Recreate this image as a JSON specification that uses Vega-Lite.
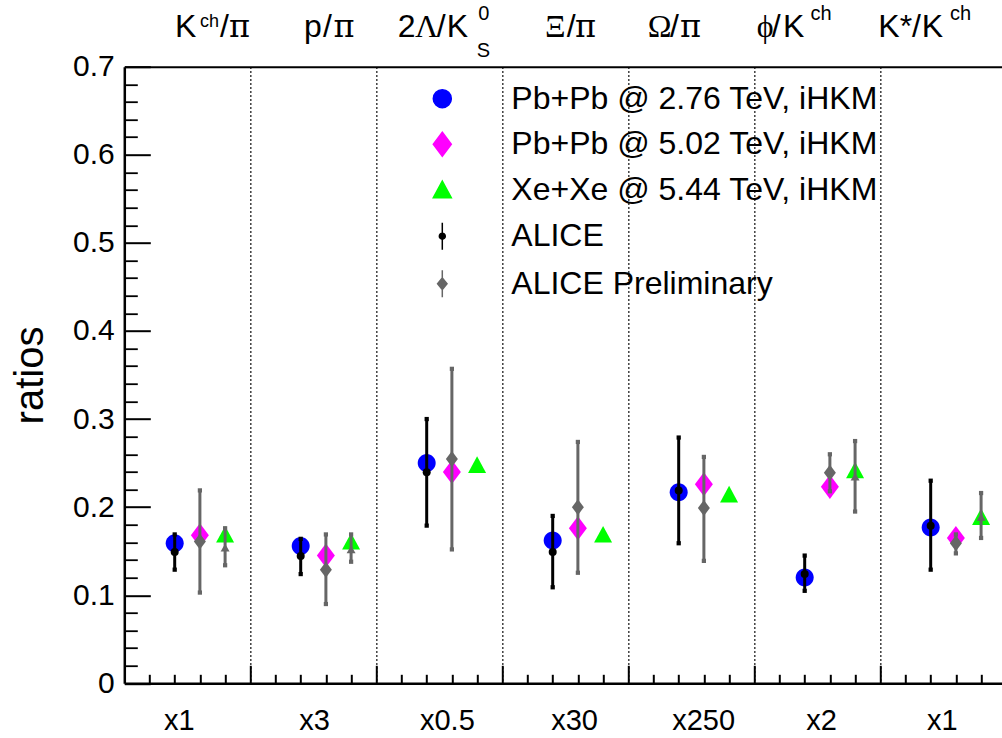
{
  "$schema": "https://vega.github.io/schema/vega-lite/v6.json",
  "width": 877.7,
  "height": 616.6,
  "autosize": {"type": "none"},
  "padding": {"left": 124.3, "top": 66.7, "right": 0, "bottom": 54.7},
  "background": "white",
  "config": {
    "view": {"stroke": null},
    "font": "Liberation Sans",
    "axis": {"labelFont": "Liberation Sans", "labelColor": "black", "tickColor": "black", "domainColor": "black", "titleColor": "black", "labelFlush": false, "labelOverlap": false, "grid": false}
  },
  "datasets": {
    "models": [
      {"slot": 2, "series": "Pb+Pb @ 2.76 TeV, iHKM", "ratio": 0.159},
      {"slot": 3, "series": "Pb+Pb @ 5.02 TeV, iHKM", "ratio": 0.168},
      {"slot": 4, "series": "Xe+Xe @ 5.44 TeV, iHKM", "ratio": 0.169},
      {"slot": 7, "series": "Pb+Pb @ 2.76 TeV, iHKM", "ratio": 0.156},
      {"slot": 8, "series": "Pb+Pb @ 5.02 TeV, iHKM", "ratio": 0.145},
      {"slot": 9, "series": "Xe+Xe @ 5.44 TeV, iHKM", "ratio": 0.161},
      {"slot": 12, "series": "Pb+Pb @ 2.76 TeV, iHKM", "ratio": 0.25},
      {"slot": 13, "series": "Pb+Pb @ 5.02 TeV, iHKM", "ratio": 0.24},
      {"slot": 14, "series": "Xe+Xe @ 5.44 TeV, iHKM", "ratio": 0.248},
      {"slot": 17, "series": "Pb+Pb @ 2.76 TeV, iHKM", "ratio": 0.162},
      {"slot": 18, "series": "Pb+Pb @ 5.02 TeV, iHKM", "ratio": 0.176},
      {"slot": 19, "series": "Xe+Xe @ 5.44 TeV, iHKM", "ratio": 0.169},
      {"slot": 22, "series": "Pb+Pb @ 2.76 TeV, iHKM", "ratio": 0.217},
      {"slot": 23, "series": "Pb+Pb @ 5.02 TeV, iHKM", "ratio": 0.226},
      {"slot": 24, "series": "Xe+Xe @ 5.44 TeV, iHKM", "ratio": 0.2145},
      {"slot": 27, "series": "Pb+Pb @ 2.76 TeV, iHKM", "ratio": 0.12},
      {"slot": 28, "series": "Pb+Pb @ 5.02 TeV, iHKM", "ratio": 0.223},
      {"slot": 29, "series": "Xe+Xe @ 5.44 TeV, iHKM", "ratio": 0.242},
      {"slot": 32, "series": "Pb+Pb @ 2.76 TeV, iHKM", "ratio": 0.177},
      {"slot": 33, "series": "Pb+Pb @ 5.02 TeV, iHKM", "ratio": 0.165},
      {"slot": 34, "series": "Xe+Xe @ 5.44 TeV, iHKM", "ratio": 0.189}
    ],
    "alice": [
      {"slot": 2, "series": "ALICE", "marker": "circle", "ratio": 0.149, "lo": 0.129, "hi": 0.169},
      {"slot": 3, "series": "ALICE Preliminary", "marker": "diamond", "ratio": 0.161, "lo": 0.103, "hi": 0.219},
      {"slot": 4, "series": "ALICE Preliminary", "marker": "triangle", "ratio": 0.154, "lo": 0.134, "hi": 0.176},
      {"slot": 7, "series": "ALICE", "marker": "circle", "ratio": 0.1445, "lo": 0.124, "hi": 0.164},
      {"slot": 8, "series": "ALICE Preliminary", "marker": "diamond", "ratio": 0.129, "lo": 0.09, "hi": 0.169},
      {"slot": 9, "series": "ALICE Preliminary", "marker": "triangle", "ratio": 0.152, "lo": 0.138, "hi": 0.169},
      {"slot": 12, "series": "ALICE", "marker": "circle", "ratio": 0.2395, "lo": 0.179, "hi": 0.3},
      {"slot": 13, "series": "ALICE Preliminary", "marker": "diamond", "ratio": 0.2546, "lo": 0.152, "hi": 0.357},
      {"slot": 17, "series": "ALICE", "marker": "circle", "ratio": 0.149, "lo": 0.109, "hi": 0.19},
      {"slot": 18, "series": "ALICE Preliminary", "marker": "diamond", "ratio": 0.2, "lo": 0.1255, "hi": 0.274},
      {"slot": 22, "series": "ALICE", "marker": "circle", "ratio": 0.219, "lo": 0.159, "hi": 0.279},
      {"slot": 23, "series": "ALICE Preliminary", "marker": "diamond", "ratio": 0.199, "lo": 0.139, "hi": 0.257},
      {"slot": 27, "series": "ALICE", "marker": "circle", "ratio": 0.124, "lo": 0.105, "hi": 0.145},
      {"slot": 28, "series": "ALICE Preliminary", "marker": "diamond", "ratio": 0.239, "lo": 0.218, "hi": 0.26},
      {"slot": 29, "series": "ALICE Preliminary", "marker": "triangle", "ratio": 0.2346, "lo": 0.195, "hi": 0.275},
      {"slot": 32, "series": "ALICE", "marker": "circle", "ratio": 0.179, "lo": 0.129, "hi": 0.23},
      {"slot": 33, "series": "ALICE Preliminary", "marker": "diamond", "ratio": 0.159, "lo": 0.1475, "hi": 0.169},
      {"slot": 34, "series": "ALICE Preliminary", "marker": "triangle", "ratio": 0.189, "lo": 0.165, "hi": 0.216}
    ],
    "labels": [
      {"slot": 2.012, "txt": "K", "kind": "sans"},
      {"slot": 3.004, "txt": "ch", "kind": "sup1"},
      {"slot": 3.798, "txt": "/", "kind": "sans"},
      {"slot": 4.155, "txt": "π", "kind": "pi"},
      {"slot": 7.131, "txt": "p", "kind": "sans"},
      {"slot": 7.885, "txt": "/", "kind": "sans"},
      {"slot": 8.3, "txt": "π", "kind": "pi"},
      {"slot": 10.849, "txt": "2", "kind": "sans"},
      {"slot": 11.536, "txt": "Λ", "kind": "serif"},
      {"slot": 12.397, "txt": "/", "kind": "sans"},
      {"slot": 12.794, "txt": "K", "kind": "sans"},
      {"slot": 14.048, "txt": "0", "kind": "sup2"},
      {"slot": 13.984, "txt": "S", "kind": "sub"},
      {"slot": 16.694, "txt": "Ξ", "kind": "serif"},
      {"slot": 17.556, "txt": "/", "kind": "sans"},
      {"slot": 17.885, "txt": "π", "kind": "pi"},
      {"slot": 20.77, "txt": "Ω", "kind": "serif"},
      {"slot": 21.655, "txt": "/", "kind": "sans"},
      {"slot": 22.052, "txt": "π", "kind": "pi"},
      {"slot": 25.095, "txt": "ϕ", "kind": "serif"},
      {"slot": 25.69, "txt": "/", "kind": "sans"},
      {"slot": 26.139, "txt": "K", "kind": "sans"},
      {"slot": 27.23, "txt": "ch", "kind": "sup2"},
      {"slot": 29.921, "txt": "K*/", "kind": "sans"},
      {"slot": 31.643, "txt": "K", "kind": "sans"},
      {"slot": 32.766, "txt": "ch", "kind": "sup2"}
    ]
  },
  "layer": [
    {
      "data": {"name": "models"},
      "mark": {"type": "point", "filled": true, "size": 729, "opacity": 1},
      "encoding": {
        "x": {"field": "slot", "type": "quantitative", "scale": {"domain": [0, 34.83], "nice": false, "zero": false},
          "axis": {"orient": "bottom", "values": [2.16, 7.53, 12.8, 17.85, 22.97, 27.65, 32.44], "ticks": false, "domain": false, "grid": false,
            "labelExpr": "datum.value < 5 ? 'x1' : datum.value < 10 ? 'x3' : datum.value < 15 ? 'x0.5' : datum.value < 20 ? 'x30' : datum.value < 25 ? 'x250' : datum.value < 30 ? 'x2' : 'x1'",
            "labelFontSize": 29, "labelPadding": 46, "labelBaseline": "alphabetic", "labelAlign": "center", "title": null}},
        "y": {"field": "ratio", "type": "quantitative", "scale": {"domain": [0, 0.7], "nice": false},
          "axis": {"orient": "left", "values": [0, 0.1, 0.2, 0.3, 0.4, 0.5, 0.6, 0.7], "ticks": false, "domain": false, "grid": false,
            "labelFontSize": 30, "labelPadding": 10, "labelExpr": "datum.value == 0 ? '0' : format(datum.value, '.1f')",
            "title": "ratios", "titleFont": "Liberation Sans", "titleFontSize": 40, "titleFontWeight": "normal",
            "titleX": -81.6, "titleY": 308.3, "titleAngle": 270, "titleAlign": "center", "titleBaseline": "alphabetic"}},
        "color": {"field": "series", "type": "nominal",
          "scale": {"domain": ["Pb+Pb @ 2.76 TeV, iHKM", "Pb+Pb @ 5.02 TeV, iHKM", "Xe+Xe @ 5.44 TeV, iHKM", "ALICE", "ALICE Preliminary"],
            "range": ["#0000ff", "#ff00ff", "#00ff00", "#000000", "#666666"]},
          "legend": {"title": null, "orient": "none", "legendX": 302, "legendY": 16, "direction": "vertical",
            "labelFont": "Liberation Sans", "labelFontSize": 32, "labelColor": "black", "labelLimit": 0,
            "labelOffset": 53, "rowPadding": 13.5, "padding": 0, "symbolSize": 729,
            "encode": {"symbols": {"update": {
              "fill": {"scale": "color", "field": "value"},
              "stroke": {"scale": "color", "field": "value"},
              "strokeWidth": [{"test": "indexof(datum.value, 'ALICE') >= 0", "value": 2.5}, {"value": 0}],
              "opacity": {"value": 1}}}}}},
        "shape": {"field": "series", "type": "nominal",
          "scale": {"domain": ["Pb+Pb @ 2.76 TeV, iHKM", "Pb+Pb @ 5.02 TeV, iHKM", "Xe+Xe @ 5.44 TeV, iHKM", "ALICE", "ALICE Preliminary"],
            "range": [
              "M0.667 0A0.667 0.667 0 1 1 -0.667 0A0.667 0.667 0 1 1 0.667 0Z",
              "M0 -0.89L0.667 0L0 0.89L-0.667 0Z",
              "M0 -0.63L0.667 0.6L-0.667 0.6Z",
              "M0 -1L0 1M0.22 0A0.22 0.22 0 1 1 -0.22 0A0.22 0.22 0 1 1 0.22 0Z",
              "M0 -1L0 1M0 -0.43L0.35 0L0 0.43L-0.35 0Z"]},
          "legend": {"title": null, "orient": "none", "legendX": 302, "legendY": 16, "direction": "vertical",
            "labelFont": "Liberation Sans", "labelFontSize": 32, "labelColor": "black", "labelLimit": 0,
            "labelOffset": 53, "rowPadding": 13.5, "padding": 0, "symbolSize": 729,
            "encode": {"symbols": {"update": {
              "fill": {"scale": "color", "field": "value"},
              "stroke": {"scale": "color", "field": "value"},
              "strokeWidth": [{"test": "indexof(datum.value, 'ALICE') >= 0", "value": 2.5}, {"value": 0}],
              "opacity": {"value": 1}}}}}}
      }
    },
    {
      "data": {"name": "alice"},
      "mark": {"type": "rule", "strokeWidth": 3},
      "encoding": {
        "x": {"field": "slot", "type": "quantitative",
          "axis": {"orient": "bottom", "values": [5, 10, 15, 20, 25, 30], "ticks": true, "tickSize": -18, "tickWidth": 2, "labels": false,
            "domain": true, "domainWidth": 2.5, "grid": true, "gridColor": "black", "gridDash": [1.5, 2.5], "gridWidth": 1.5, "title": null}},
        "y": {"field": "lo", "type": "quantitative",
          "axis": {"orient": "left", "values": [0, 0.1, 0.2, 0.3, 0.4, 0.5, 0.6, 0.7], "ticks": true, "tickSize": -26, "tickWidth": 2, "labels": false,
            "domain": true, "domainWidth": 2.5, "grid": false, "title": null}},
        "y2": {"field": "hi"},
        "color": {"field": "series", "type": "nominal"}
      }
    },
    {
      "data": {"name": "alice"},
      "mark": {"type": "point", "shape": "square", "filled": true, "size": 18, "opacity": 1},
      "encoding": {
        "x": {"field": "slot", "type": "quantitative",
          "axis": {"orient": "bottom", "values": [1, 2, 3, 4, 6, 7, 8, 9, 11, 12, 13, 14, 16, 17, 18, 19, 21, 22, 23, 24, 26, 27, 28, 29, 31, 32, 33, 34],
            "ticks": true, "tickSize": -9, "tickWidth": 2, "labels": false, "domain": false, "grid": false, "title": null}},
        "y": {"field": "lo", "type": "quantitative",
          "axis": {"orient": "left", "values": [0.02, 0.04, 0.06, 0.08, 0.12, 0.14, 0.16, 0.18, 0.22, 0.24, 0.26, 0.28, 0.32, 0.34, 0.36, 0.38, 0.42, 0.44, 0.46, 0.48, 0.52, 0.54, 0.56, 0.58, 0.62, 0.64, 0.66, 0.68],
            "ticks": true, "tickSize": -13, "tickWidth": 1.8, "labels": false, "domain": false, "grid": false, "title": null}},
        "color": {"field": "series", "type": "nominal"}
      }
    },
    {
      "data": {"name": "alice"},
      "mark": {"type": "point", "shape": "square", "filled": true, "size": 18, "opacity": 1},
      "encoding": {
        "x": {"field": "slot", "type": "quantitative",
          "axis": {"orient": "top", "ticks": false, "labels": false, "domain": true, "domainWidth": 2, "grid": false, "title": null}},
        "y": {"field": "hi", "type": "quantitative", "axis": null},
        "color": {"field": "series", "type": "nominal"}
      }
    },
    {
      "data": {"name": "alice"},
      "transform": [{"filter": "datum.marker == 'circle'"}],
      "mark": {"type": "point", "shape": "circle", "filled": true, "size": 64, "opacity": 1, "color": "#000000"},
      "encoding": {
        "x": {"field": "slot", "type": "quantitative", "axis": null},
        "y": {"field": "ratio", "type": "quantitative", "axis": null}
      }
    },
    {
      "data": {"name": "alice"},
      "transform": [{"filter": "datum.marker == 'diamond'"}],
      "mark": {"type": "point", "shape": "M0 -1L0.75 0L0 1L-0.75 0Z", "filled": true, "size": 256, "opacity": 1, "color": "#666666"},
      "encoding": {
        "x": {"field": "slot", "type": "quantitative", "axis": null},
        "y": {"field": "ratio", "type": "quantitative", "axis": null}
      }
    },
    {
      "data": {"name": "alice"},
      "transform": [{"filter": "datum.marker == 'triangle'"}],
      "mark": {"type": "point", "shape": "triangle-up", "filled": true, "size": 80, "opacity": 1, "color": "#666666"},
      "encoding": {
        "x": {"field": "slot", "type": "quantitative", "axis": null},
        "y": {"field": "ratio", "type": "quantitative", "axis": null}
      }
    },
    {
      "data": {"name": "labels"},
      "transform": [{"filter": "datum.kind == 'sans'"}],
      "mark": {"type": "text", "align": "left", "baseline": "alphabetic", "font": "Liberation Sans", "fontSize": 32, "dy": -30, "color": "black"},
      "encoding": {
        "x": {"field": "slot", "type": "quantitative", "axis": null},
        "y": {"datum": 0.7, "type": "quantitative", "axis": null},
        "text": {"field": "txt"}
      }
    },
    {
      "data": {"name": "labels"},
      "transform": [{"filter": "datum.kind == 'serif'"}],
      "mark": {"type": "text", "align": "left", "baseline": "alphabetic", "font": "Liberation Serif", "fontSize": 32, "dy": -30, "color": "black"},
      "encoding": {
        "x": {"field": "slot", "type": "quantitative", "axis": null},
        "y": {"datum": 0.7, "type": "quantitative", "axis": null},
        "text": {"field": "txt"}
      }
    },
    {
      "data": {"name": "labels"},
      "transform": [{"filter": "datum.kind == 'pi'"}],
      "mark": {"type": "text", "align": "left", "baseline": "alphabetic", "font": "DejaVu Serif", "fontSize": 32, "dy": -30, "color": "black"},
      "encoding": {
        "x": {"field": "slot", "type": "quantitative", "axis": null},
        "y": {"datum": 0.7, "type": "quantitative", "axis": null},
        "text": {"field": "txt"}
      }
    },
    {
      "data": {"name": "labels"},
      "transform": [{"filter": "datum.kind == 'sup1'"}],
      "mark": {"type": "text", "align": "left", "baseline": "alphabetic", "font": "Liberation Sans", "fontSize": 18, "dy": -40, "color": "black"},
      "encoding": {
        "x": {"field": "slot", "type": "quantitative", "axis": null},
        "y": {"datum": 0.7, "type": "quantitative", "axis": null},
        "text": {"field": "txt"}
      }
    },
    {
      "data": {"name": "labels"},
      "transform": [{"filter": "datum.kind == 'sup2'"}],
      "mark": {"type": "text", "align": "left", "baseline": "alphabetic", "font": "Liberation Sans", "fontSize": 20, "dy": -46.7, "color": "black"},
      "encoding": {
        "x": {"field": "slot", "type": "quantitative", "axis": null},
        "y": {"datum": 0.7, "type": "quantitative", "axis": null},
        "text": {"field": "txt"}
      }
    },
    {
      "data": {"name": "labels"},
      "transform": [{"filter": "datum.kind == 'sub'"}],
      "mark": {"type": "text", "align": "left", "baseline": "alphabetic", "font": "Liberation Sans", "fontSize": 20, "dy": -10, "color": "black"},
      "encoding": {
        "x": {"field": "slot", "type": "quantitative", "axis": null},
        "y": {"datum": 0.7, "type": "quantitative", "axis": null},
        "text": {"field": "txt"}
      }
    }
  ],
  "resolve": {"axis": {"x": "independent", "y": "independent"}}
}
